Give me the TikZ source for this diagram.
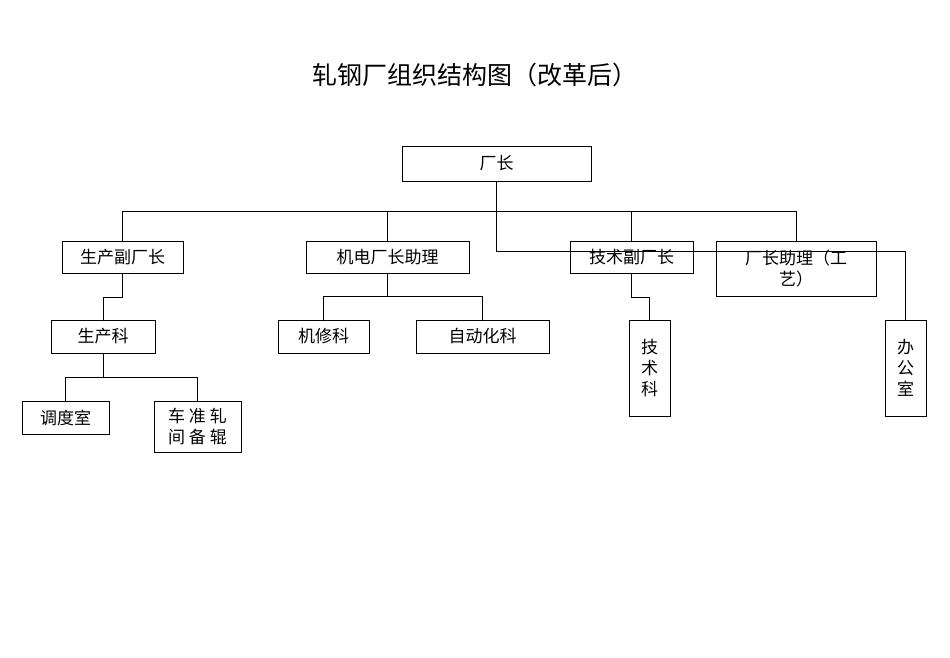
\documentclass[tikz,border=0pt]{standalone}
\usepackage{fontspec}
\setmainfont{Noto Sans CJK SC}
\usetikzlibrary{positioning}
\tikzset{
  unit/.style={draw, thick, inner sep=0pt, font=\fontsize{17}{21}\selectfont, align=center},
  link/.style={thick}
}
\begin{document}
\begin{tikzpicture}[x=1pt,y=-1pt]
        \useasboundingbox (0,0) rectangle (950,658);
        %% title
        \node (title) at (475,75) {\fontsize{25}{30}\selectfont 轧钢厂组织结构图（改革后）};
        %% boxes
        \node[unit, minimum width=189pt, minimum height=35pt] (head) at (496.5,163.5) {厂长};
        \node[unit, minimum width=121pt, minimum height=32pt] (prodvp) at (122.5,257) {生产副厂长};
        \node[unit, minimum width=163pt, minimum height=32pt] (mechasst) at (387.5,257) {机电厂长助理};
        \node[unit, minimum width=123pt, minimum height=32pt] (techvp) at (631.5,257) {技术副厂长};
        \node[unit, minimum width=160pt, minimum height=55pt] (procasst) at (796,268.5) {厂长助理（工\\艺）};
        \node[unit, minimum width=104pt, minimum height=33pt] (prodsec) at (103,336.5) {生产科};
        \node[unit, minimum width=91pt, minimum height=33pt] (repair) at (323.5,336.5) {机修科};
        \node[unit, minimum width=133pt, minimum height=33pt] (auto) at (482.5,336.5) {自动化科};
        \node[unit, minimum width=41pt, minimum height=96pt] (techsec) at (649.5,368) {技\\术\\科};
        \node[unit, minimum width=41pt, minimum height=96pt] (office) at (905.5,368) {办\\公\\室};
        \node[unit, minimum width=87pt, minimum height=33pt] (dispatch) at (65.5,417.5) {调度室};
        \node[unit, minimum width=87pt, minimum height=51pt] (roll) at (197.5,426.5) {车 准 轧\\间 备 辊};
        %% connectors
        \draw[link] (head.south) -- ++(0,30) coordinate (bus);
        \draw[link] (prodvp.north) |- (bus) -| (procasst.north);
        \draw[link] (mechasst.north) -- (mechasst.north |- bus);
        \draw[link] (techvp.north) -- (techvp.north |- bus);
        \draw[link] (bus) -- ++(0,40) -| (office.north);
        \draw[link] (prodvp.south) -- ++(0,24) -| (prodsec.north);
        \draw[link] (techvp.south) -- ++(0,24) -| (techsec.north);
        \draw[link] (repair.north) -- ++(0,-23) -| (auto.north);
        \draw[link] (mechasst.south) -- ++(0,24);
        \draw[link] (dispatch.north) -- ++(0,-23) -| (roll.north);
        \draw[link] (prodsec.south) -- ++(0,25);
\end{tikzpicture}
\end{document}
